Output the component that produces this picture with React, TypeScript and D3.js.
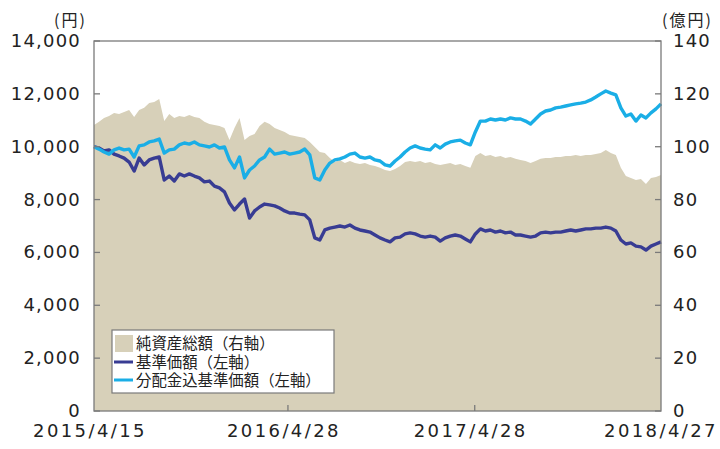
import * as d3 from 'd3'

const startDate = '2015/4/15'
const endDate = '2018/4/27'
const xTickLabels = ['2015/4/15', '2016/4/28', '2017/4/28', '2018/4/27']
const leftTicks = [0, 2000, 4000, 6000, 8000, 10000, 12000, 14000]
const rightTicks = [0, 20, 40, 60, 80, 100, 120, 140]

const legendLabels = ['純資産総額（右軸）', '基準価額（左軸）', '分配金込基準価額（左軸）']

// 純資産総額 (億円), evenly spaced from start to end
const netAssets = [
  108.2, 109.4, 110.9, 111.6, 112.8, 112.4, 113.1, 113.9, 111.2, 113.9,
  114.7, 116.5, 116.9, 118.1, 109.7, 112.4, 110.9, 111.6, 111.2, 112.0,
  111.2, 110.9, 109.4, 108.6, 108.2, 107.8, 107.1, 102.5, 107.1, 110.9,
  102.5, 104.1, 104.8, 107.8, 109.4, 108.6, 107.1, 106.3, 105.6, 104.4,
  104.1, 103.7, 103.3, 101.8, 99.9, 98.0, 97.6, 95.7, 94.2, 95.0,
  93.8, 94.6, 93.8, 93.5, 93.8, 93.1, 92.7, 92.0, 91.2, 90.8,
  91.6, 92.7, 94.2, 94.6, 94.2, 94.6, 93.8, 94.2, 93.5, 93.1,
  93.5, 93.8, 93.1, 93.5, 92.7, 92.0, 96.5, 97.6, 96.5, 96.9,
  96.1, 96.5, 95.7, 96.1, 95.4, 95.0, 94.6, 93.8, 94.6, 95.4,
  95.7, 95.7, 96.1, 96.1, 96.5, 96.5, 96.9, 96.5, 96.9, 96.9,
  97.2, 97.6, 98.8, 97.6, 96.9, 92.0, 88.9, 88.2, 87.4, 87.8,
  85.9, 88.2, 88.5, 89.3,
]

// 基準価額 (円)
const basePrice = [
  10000, 9950, 9840, 9880, 9720, 9650, 9570, 9420, 9080, 9570,
  9310, 9500, 9570, 9610, 8740, 8890, 8700, 8970, 8890, 8970,
  8890, 8820, 8670, 8700, 8510, 8440, 8290, 7870, 7610, 7830,
  8020, 7300, 7570, 7720, 7830, 7800, 7760, 7680, 7570, 7490,
  7490, 7450, 7420, 7230, 6550, 6470, 6850, 6920, 6960, 7000,
  6960, 7040, 6920, 6850, 6810, 6770, 6660, 6550, 6470, 6400,
  6550, 6580, 6700, 6740, 6700, 6620, 6580, 6620, 6580, 6430,
  6550, 6620, 6660, 6620, 6510, 6400, 6700, 6890, 6810, 6850,
  6770, 6810, 6740, 6770, 6660, 6660, 6620, 6580, 6620, 6740,
  6770, 6740, 6770, 6770, 6810, 6850, 6810, 6850, 6890, 6890,
  6920, 6920, 6960, 6920, 6810, 6470, 6320, 6360, 6240, 6210,
  6090, 6240, 6320, 6400,
]

// 分配金込基準価額 (円)
const adjustedPrice = [
  10000, 9910, 9800, 9720, 9880, 9950, 9880, 9910, 9610, 10030,
  10070, 10180, 10220, 10290, 9760, 9880, 9910, 10070, 10140, 10100,
  10180, 10070, 10030, 9990, 10070, 9950, 9990, 9500, 9200, 9610,
  8820, 9120, 9270, 9500, 9610, 9910, 9720, 9760, 9800, 9720,
  9760, 9800, 9910, 9690, 8820, 8740, 9120, 9380, 9500, 9540,
  9610, 9720, 9760, 9610, 9570, 9610, 9500, 9460, 9310, 9270,
  9460, 9610, 9800, 9950, 10030, 9950, 9910, 9880, 10070, 9950,
  10100, 10180, 10220, 10250, 10140, 10070, 10560, 10970, 10970, 11050,
  11010, 11050, 11010, 11090, 11050, 11050, 10970, 10860, 11050, 11240,
  11350, 11390, 11470, 11500, 11540, 11580, 11620, 11650, 11690, 11770,
  11880, 12000, 12110, 12030, 11960, 11470, 11160, 11240, 10970, 11200,
  11090, 11280, 11430, 11620,
]

const colors = {
  nav: '#d7d0b9',
  base: '#383c93',
  adjusted: '#1aaee6',
  axis: '#7a7a7a',
  text: '#222',
}

const W = 720
const H = 449
const margin = { left: 94, right: 59, top: 41, bottom: 38 }
const numFont = 'DejaVu Sans'
const jpFont = '"Noto Sans CJK JP", sans-serif'

const parse = d3.timeParse('%Y/%m/%d')

const App = () => {
  const t0 = parse(startDate)!
  const t1 = parse(endDate)!
  const n = netAssets.length
  const dates = netAssets.map(
    (_, i) => new Date(t0.getTime() + (i * (t1.getTime() - t0.getTime())) / (n - 1))
  )

  const x = d3.scaleTime().domain([t0, t1]).range([margin.left, W - margin.right])
  const yL = d3.scaleLinear().domain([0, 14000]).range([H - margin.bottom, margin.top])
  const yR = d3.scaleLinear().domain([0, 140]).range([H - margin.bottom, margin.top])

  const area = d3
    .area<number>()
    .x((_, i) => x(dates[i]))
    .y0(yR(0))
    .y1(d => yR(d))
  const line = d3
    .line<number>()
    .x((_, i) => x(dates[i]))
    .y(d => yL(d))

  const fmt = d3.format(',')
  const x0 = margin.left
  const x1 = W - margin.right
  const y0 = H - margin.bottom
  const y1 = margin.top

  const legendX = 112
  const legendY = 330

  return (
    <svg
      width={W}
      height={H}
      style={{ position: 'absolute', left: 0, top: 0, background: '#fff' }}
    >
      <path d={area(netAssets) ?? ''} fill={colors.nav} />
      <path
        d={line(basePrice) ?? ''}
        fill="none"
        stroke={colors.base}
        strokeWidth={3.4}
        strokeLinejoin="round"
      />
      <path
        d={line(adjustedPrice) ?? ''}
        fill="none"
        stroke={colors.adjusted}
        strokeWidth={3.4}
        strokeLinejoin="round"
      />

      {/* frame */}
      <rect
        x={x0}
        y={y1}
        width={x1 - x0}
        height={y0 - y1}
        fill="none"
        stroke={colors.axis}
        strokeWidth={1.3}
      />

      {/* left axis */}
      {leftTicks.map(t => (
        <g key={'l' + t}>
          <line x1={x0} x2={x0 + 6} y1={yL(t)} y2={yL(t)} stroke={colors.axis} strokeWidth={1.3} />
          <text
            x={81}
            y={yL(t) + 6}
            textAnchor="end"
            fontFamily={numFont}
            fontSize={18}
            letterSpacing={1.2}
            fill={colors.text}
          >
            {fmt(t)}
          </text>
        </g>
      ))}

      {/* right axis */}
      {rightTicks.map(t => (
        <g key={'r' + t}>
          <line x1={x1 - 6} x2={x1} y1={yR(t)} y2={yR(t)} stroke={colors.axis} strokeWidth={1.3} />
          <text
            x={673}
            y={yR(t) + 6}
            textAnchor="start"
            fontFamily={numFont}
            fontSize={18}
            letterSpacing={1.2}
            fill={colors.text}
          >
            {t}
          </text>
        </g>
      ))}

      {/* x axis */}
      {xTickLabels.map((l, i) => {
        const px = x(parse(l)!)
        const last = i === xTickLabels.length - 1
        return (
          <g key={l}>
            {i > 0 && !last && (
              <line x1={px} x2={px} y1={y0 - 6} y2={y0} stroke={colors.axis} strokeWidth={1.3} />
            )}
            <text
              x={last ? px : px - 4}
              y={437}
              textAnchor="middle"
              fontFamily={numFont}
              fontSize={18}
              letterSpacing={2.4}
              fill={colors.text}
            >
              {l}
            </text>
          </g>
        )
      })}

      {/* units */}
      <text x={54} y={26} fontFamily={jpFont} fontSize={16} letterSpacing={2} fill={colors.text}>
        (円)
      </text>
      <text x={662} y={26} fontFamily={jpFont} fontSize={16} letterSpacing={2} fill={colors.text}>
        (億円)
      </text>

      {/* legend */}
      <rect
        x={legendX}
        y={legendY}
        width={222}
        height={63}
        fill="#fff"
        stroke={colors.axis}
        strokeWidth={1.2}
      />
      <rect x={legendX + 3} y={legendY + 5} width={18} height={17} fill={colors.nav} />
      <line
        x1={legendX + 2}
        x2={legendX + 21}
        y1={legendY + 32}
        y2={legendY + 32}
        stroke={colors.base}
        strokeWidth={3}
      />
      <line
        x1={legendX + 2}
        x2={legendX + 21}
        y1={legendY + 50}
        y2={legendY + 50}
        stroke={colors.adjusted}
        strokeWidth={3}
      />
      {legendLabels.map((l, i) => (
        <text
          key={l}
          x={legendX + 24}
          y={legendY + 19 + i * 18.5}
          fontFamily={jpFont}
          fontSize={15.4}
          fill={colors.text}
        >
          {l}
        </text>
      ))}
    </svg>
  )
}

export default App
